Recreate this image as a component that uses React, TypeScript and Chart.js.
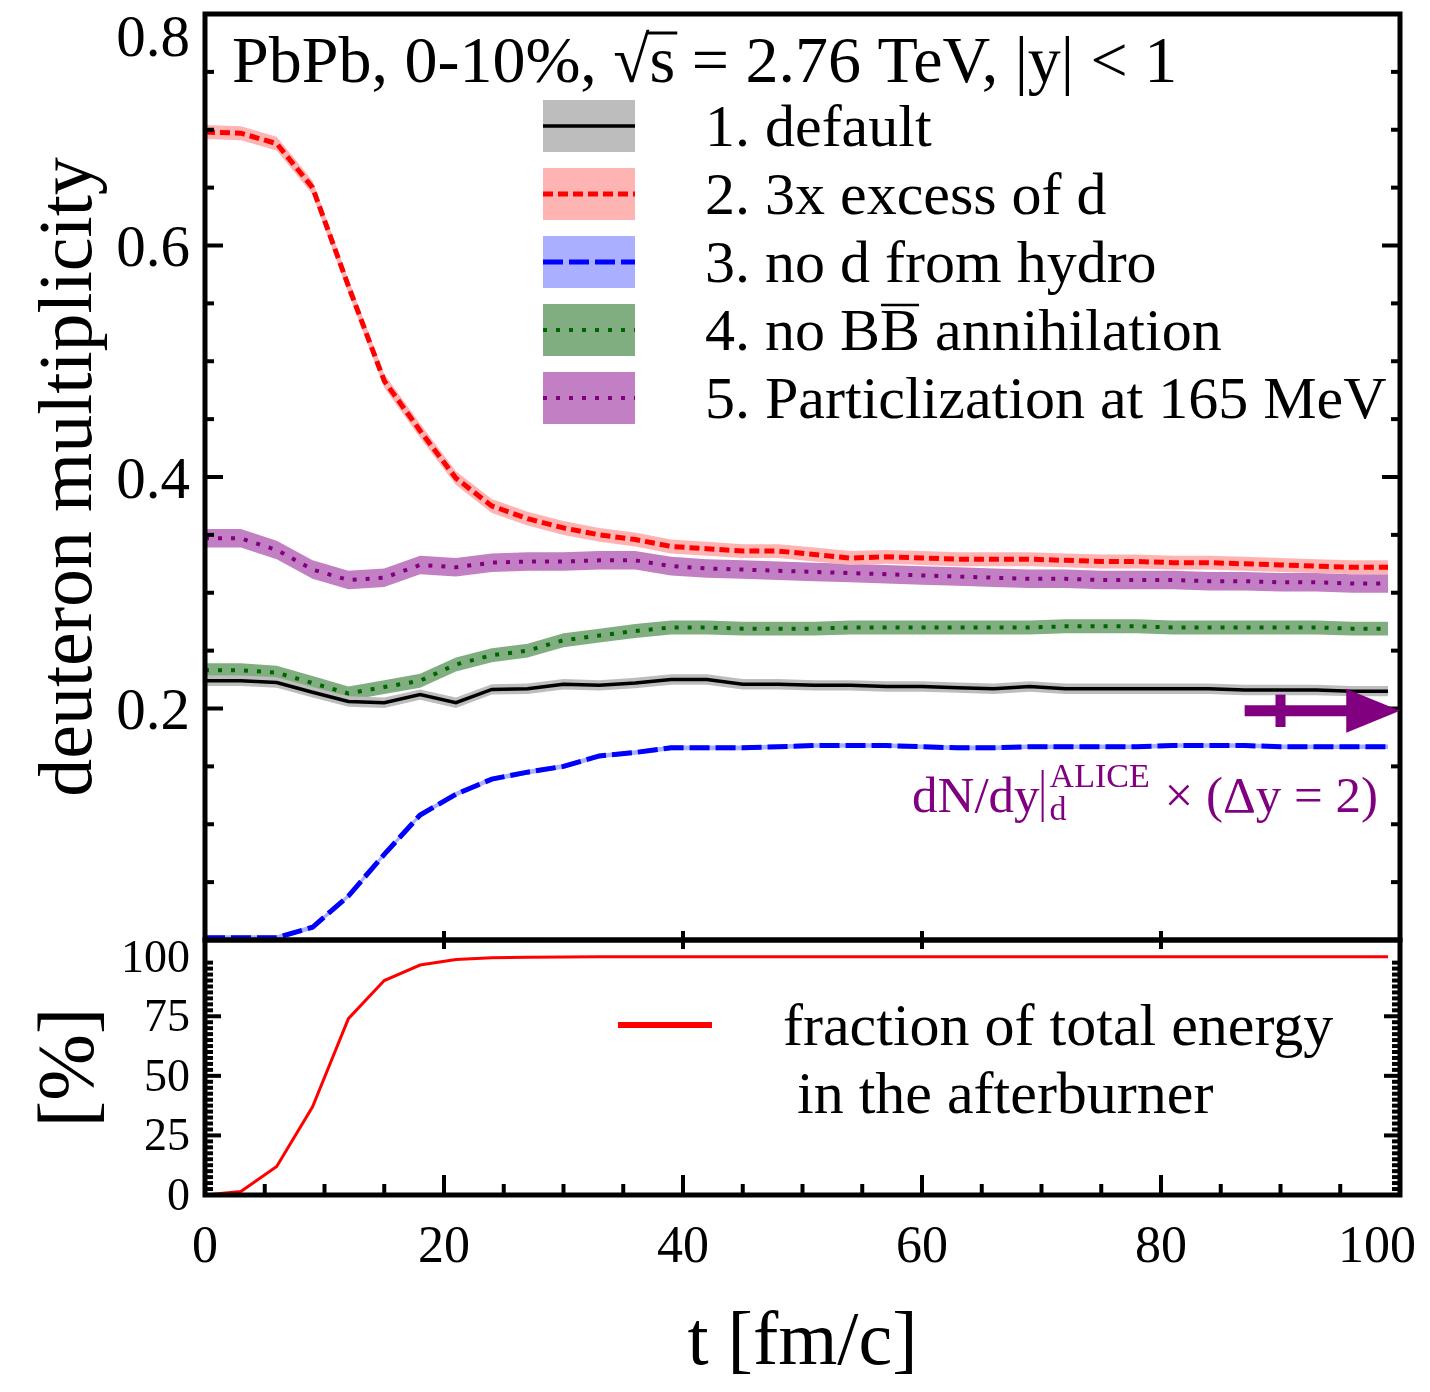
import React, { useEffect, useRef } from "react";
import { Chart, registerables } from "chart.js";

Chart.register(...registerables);

const FONT = '"Liberation Serif", "Times New Roman", "DejaVu Serif", serif';

// ---------------- data ----------------
const times = [0, 3, 6, 9, 12, 15, 18, 21, 24, 27, 30, 33, 36, 39, 42, 45, 48, 51, 54, 57, 60, 63, 66, 69, 72, 75, 78, 81, 84, 87, 90, 93, 96, 99];

const defaultMult = [0.224, 0.224, 0.2225, 0.214, 0.206, 0.205, 0.212, 0.205, 0.2165, 0.217, 0.221, 0.22, 0.222, 0.225, 0.225, 0.221, 0.221, 0.22, 0.22, 0.219, 0.219, 0.218, 0.217, 0.219, 0.217, 0.217, 0.217, 0.217, 0.217, 0.216, 0.216, 0.216, 0.215, 0.215];
const excessMult = [0.698, 0.697, 0.688, 0.65, 0.565, 0.483, 0.44, 0.399, 0.375, 0.364, 0.356, 0.35, 0.346, 0.34, 0.338, 0.336, 0.336, 0.333, 0.33, 0.331, 0.33, 0.329, 0.329, 0.329, 0.328, 0.327, 0.327, 0.326, 0.326, 0.325, 0.324, 0.323, 0.322, 0.322];
const noHydroMult = [0.002, 0.002, 0.002, 0.011, 0.038, 0.074, 0.108, 0.126, 0.139, 0.145, 0.15, 0.159, 0.162, 0.166, 0.166, 0.166, 0.167, 0.168, 0.168, 0.168, 0.167, 0.166, 0.166, 0.167, 0.167, 0.167, 0.167, 0.168, 0.168, 0.168, 0.167, 0.167, 0.167, 0.167];
const noAnnihMult = [0.233, 0.233, 0.231, 0.222, 0.213, 0.2185, 0.224, 0.238, 0.246, 0.25, 0.259, 0.263, 0.267, 0.27, 0.27, 0.269, 0.269, 0.269, 0.27, 0.27, 0.27, 0.27, 0.27, 0.27, 0.271, 0.271, 0.271, 0.27, 0.27, 0.27, 0.27, 0.27, 0.269, 0.269];
const partic165Mult = [0.347, 0.347, 0.337, 0.32, 0.311, 0.313, 0.324, 0.322, 0.326, 0.327, 0.327, 0.328, 0.328, 0.323, 0.321, 0.32, 0.319, 0.318, 0.317, 0.316, 0.315, 0.314, 0.313, 0.312, 0.312, 0.311, 0.311, 0.311, 0.31, 0.31, 0.309, 0.309, 0.308, 0.308];

// band half widths (uncertainty)
const defaultErr = 0.0045;
const excessErr = 0.006;
const noHydroErr = 0.002;
const noAnnihErr = 0.006;
const partic165Err = 0.008;

const energyFraction = [0, 1.5, 12, 37, 74, 90, 96.5, 98.8, 99.5, 99.8, 99.9, 100, 100, 100, 100, 100, 100, 100, 100, 100, 100, 100, 100, 100, 100, 100, 100, 100, 100, 100, 100, 100, 100, 100];

const aliceD = 0.198;
const aliceErr = 0.014;

const multTicks = [0.2, 0.4, 0.6, 0.8];
const fracTicks = [0, 25, 50, 75, 100];
const timeTicks = [0, 20, 40, 60, 80, 100];

const legendLabels = ["1. default", "2. 3x excess of d", "3. no d from hydro", "4. no BB annihilation", "5. Particlization at 165 MeV"];

// ---------------- styles ----------------
const seriesDefs = [
  { values: defaultMult, err: defaultErr, color: "#000000", band: "#bdbdbd", dash: [] as number[], width: 3.5 },
  { values: excessMult, err: excessErr, color: "#ff0000", band: "#ffb4b4", dash: [10, 5], width: 5 },
  { values: noHydroMult, err: noHydroErr, color: "#0000ff", band: "#aab0ff", dash: [20, 6], width: 5 },
  { values: noAnnihMult, err: noAnnihErr, color: "#006400", band: "#80ae80", dash: [4, 9], width: 4 },
  { values: partic165Mult, err: partic165Err, color: "#800080", band: "#c27fc4", dash: [4, 9], width: 4 },
];

const pts = (vals: number[]) => vals.map((v, i) => ({ x: times[i], y: v }));

function line(ctx: CanvasRenderingContext2D, x1: number, y1: number, x2: number, y2: number) {
  ctx.beginPath();
  ctx.moveTo(x1, y1);
  ctx.lineTo(x2, y2);
  ctx.stroke();
}

const noVPad = (s: any) => {
  s.paddingTop = 0;
  s.paddingBottom = 0;
};
const noHPad = (s: any) => {
  s.paddingLeft = 0;
  s.paddingRight = 0;
};

const topDecor = {
  id: "topDecor",
  afterDraw(chart: any) {
    const { ctx, chartArea: a, scales } = chart;
    const x = scales.x;
    const y = scales.y;
    ctx.save();
    // ticks
    ctx.strokeStyle = "#000";
    ctx.lineWidth = 4;
    for (let i = 1; i < 16; i++) {
      const py = y.getPixelForValue(i * 0.05);
      const len = i % 4 === 0 ? 18 : 9;
      line(ctx, a.left, py, a.left + len, py);
      line(ctx, a.right - len, py, a.right, py);
    }
    for (const t of timeTicks.slice(1, -1)) {
      const px = x.getPixelForValue(t);
      line(ctx, px, a.bottom, px, a.bottom - 9);
    }
    ctx.lineWidth = 5;
    ctx.strokeRect(a.left, a.top, a.right - a.left, a.bottom - a.top);

    // top tick label
    ctx.fillStyle = "#000";
    ctx.font = `59px ${FONT}`;
    ctx.textAlign = "right";
    ctx.textBaseline = "middle";
    ctx.fillText(multTicks[multTicks.length - 1].toFixed(1), a.left - 15, a.top + 26);

    // title
    ctx.textAlign = "left";
    ctx.textBaseline = "alphabetic";
    ctx.font = `66px ${FONT}`;
    const title = "PbPb, 0-10%, \u221As = 2.76 TeV, |y| < 1";
    ctx.fillText(title, 232, 82);
    const pre = ctx.measureText("PbPb, 0-10%, \u221A").width;
    const sw = ctx.measureText("s").width;
    ctx.lineWidth = 3;
    line(ctx, 232 + pre - 2, 82 - 49, 232 + pre + sw + 2, 82 - 49);

    // legend
    const lx0 = 543, lx1 = 635;
    seriesDefs.forEach((s, i) => {
      const cy = 126 + i * 68;
      ctx.fillStyle = s.band;
      ctx.fillRect(lx0, cy - 26, lx1 - lx0, 52);
      ctx.strokeStyle = s.color;
      ctx.lineWidth = s.width;
      ctx.setLineDash(s.dash);
      line(ctx, lx0, cy, lx1, cy);
      ctx.setLineDash([]);
      ctx.fillStyle = "#000";
      ctx.font = `60px ${FONT}`;
      ctx.fillText(legendLabels[i], 705, cy + 20);
      if (i === 3) {
        const w0 = ctx.measureText("4. no B").width;
        const wb = ctx.measureText("B").width;
        ctx.strokeStyle = "#000";
        ctx.lineWidth = 2.5;
        line(ctx, 705 + w0 + 1, cy - 25, 705 + w0 + wb - 1, cy - 25);
      }
    });

    // ALICE marker
    const purple = "#800080";
    ctx.fillStyle = purple;
    ctx.strokeStyle = purple;
    const py = y.getPixelForValue(aliceD);
    const xs = x.getPixelForValue(87);
    const xh = x.getPixelForValue(95.5);
    const xe = x.getPixelForValue(100);
    ctx.lineWidth = 11;
    line(ctx, xs, py, xh + 2, py);
    ctx.beginPath();
    ctx.moveTo(xh, py - 22);
    ctx.lineTo(xe, py);
    ctx.lineTo(xh, py + 22);
    ctx.closePath();
    ctx.fill();
    const xb = x.getPixelForValue(90);
    ctx.lineWidth = 10;
    line(ctx, xb, y.getPixelForValue(aliceD + aliceErr), xb, y.getPixelForValue(aliceD - aliceErr));

    // ALICE label
    ctx.font = `51px ${FONT}`;
    const p1 = "dN/dy";
    const p3 = " \u00D7 (\u0394y = 2)";
    const w1 = ctx.measureText(p1).width;
    const w3 = ctx.measureText(p3).width;
    ctx.font = `34px ${FONT}`;
    const wsup = ctx.measureText("ALICE").width;
    const total = w1 + 12 + wsup + w3;
    let cx = 1378 - total;
    const base = 812;
    ctx.font = `51px ${FONT}`;
    ctx.fillText(p1, cx, base);
    cx += w1 + 3;
    ctx.lineWidth = 2;
    line(ctx, cx, base - 42, cx, base + 10);
    cx += 7;
    ctx.font = `34px ${FONT}`;
    ctx.fillText("ALICE", cx, base - 25);
    ctx.fillText("d", cx, base + 8);
    cx += wsup + 2;
    ctx.font = `51px ${FONT}`;
    ctx.fillText(p3, cx, base);
    ctx.restore();
  },
};

const botDecor = {
  id: "botDecor",
  afterDraw(chart: any) {
    const { ctx, chartArea: a, scales } = chart;
    const x = scales.x;
    const y = scales.y;
    ctx.save();
    ctx.strokeStyle = "#000";
    ctx.lineWidth = 4;
    for (let i = 1; i < 40; i++) {
      const py = y.getPixelForValue(i * 2.5);
      const len = i % 10 === 0 ? 16 : 8;
      line(ctx, a.left, py, a.left + len, py);
      line(ctx, a.right - len, py, a.right, py);
    }
    for (let i = 1; i < 20; i++) {
      const px = x.getPixelForValue(i * 5);
      const len = i % 4 === 0 ? 20 : 11;
      line(ctx, px, a.bottom, px, a.bottom - len);
    }
    for (const t of timeTicks.slice(1, -1)) {
      const px = x.getPixelForValue(t);
      line(ctx, px, a.top, px, a.top + 9);
    }
    ctx.lineWidth = 5;
    ctx.strokeRect(a.left, a.top, a.right - a.left, a.bottom - a.top);

    // last x tick label (kept inside the figure)
    ctx.fillStyle = "#000";
    ctx.font = `52px ${FONT}`;
    ctx.textAlign = "center";
    ctx.textBaseline = "middle";
    ctx.fillText(String(timeTicks[timeTicks.length - 1]), 1377, a.bottom + 22 + 31.2);

    // legend
    ctx.strokeStyle = "#ff0000";
    ctx.lineWidth = 6;
    line(ctx, 618, 1025 - 935, 712, 1025 - 935);
    ctx.textAlign = "left";
    ctx.textBaseline = "alphabetic";
    ctx.font = `60px ${FONT}`;
    ctx.fillText("fraction of total energy", 783, 1045 - 935);
    ctx.fillText("in the afterburner", 797, 1113 - 935);
    ctx.restore();
  },
};

export default function App() {
  const topRef = useRef<HTMLCanvasElement>(null);
  const botRef = useRef<HTMLCanvasElement>(null);

  useEffect(() => {
    const datasets: any[] = [];
    seriesDefs.forEach((s) => {
      datasets.push({
        data: pts(s.values),
        borderColor: s.color,
        borderWidth: s.width,
        borderDash: s.dash,
        borderCapStyle: "butt",
        pointRadius: 0,
        fill: false,
        tension: 0,
        order: 0,
      });
    });
    seriesDefs.forEach((s) => {
      const li = datasets.length;
      datasets.push({
        data: pts(s.values.map((v) => v - s.err)),
        borderColor: "rgba(0,0,0,0)",
        borderWidth: 0,
        pointRadius: 0,
        fill: false,
        order: 5,
      });
      datasets.push({
        data: pts(s.values.map((v) => v + s.err)),
        borderColor: "rgba(0,0,0,0)",
        borderWidth: 0,
        backgroundColor: s.band,
        pointRadius: 0,
        fill: li,
        order: 5,
      });
    });

    const top = new Chart(topRef.current as HTMLCanvasElement, {
      type: "line",
      data: { datasets },
      options: {
        animation: false,
        responsive: false,
        maintainAspectRatio: false,
        events: [],
        layout: { padding: { left: 5, right: 30, top: 14, bottom: 5 } },
        plugins: { legend: { display: false }, tooltip: { enabled: false } },
        scales: {
          x: { type: "linear", min: 0, max: 100, display: false },
          y: {
            type: "linear",
            min: 0,
            max: 0.8,
            afterFit: (s: any) => {
              s.width = 200;
              noVPad(s);
            },
            afterBuildTicks: (s: any) => {
              s.ticks = multTicks.slice(0, -1).map((v) => ({ value: v }));
            },
            grid: { display: false, drawTicks: false },
            border: { display: false },
            ticks: {
              color: "#000",
              font: { family: FONT, size: 59 },
              padding: 15,
              labelOffset: 5,
              autoSkip: false,
              callback: (v: any) => Number(v).toFixed(1),
            },
            title: {
              display: true,
              text: "deuteron multiplicity",
              color: "#000",
              font: { family: FONT, size: 76 },
              padding: { top: 20, bottom: 0 },
            },
          },
        },
      } as any,
      plugins: [topDecor],
    });

    const bot = new Chart(botRef.current as HTMLCanvasElement, {
      type: "line",
      data: {
        datasets: [
          {
            data: pts(energyFraction),
            borderColor: "#ff0000",
            borderWidth: 3,
            pointRadius: 0,
            fill: false,
            tension: 0,
          },
        ],
      },
      options: {
        animation: false,
        responsive: false,
        maintainAspectRatio: false,
        events: [],
        layout: { padding: { left: 5, right: 30, top: 5, bottom: 2 } },
        plugins: { legend: { display: false }, tooltip: { enabled: false } },
        scales: {
          x: {
            type: "linear",
            min: 0,
            max: 100,
            afterFit: (s: any) => {
              s.height = 195;
              noHPad(s);
            },
            afterBuildTicks: (s: any) => {
              s.ticks = timeTicks.slice(0, -1).map((v) => ({ value: v }));
            },
            grid: { display: false, drawTicks: false },
            border: { display: false },
            ticks: {
              color: "#000",
              font: { family: FONT, size: 52 },
              padding: 22,
              maxRotation: 0,
              autoSkip: false,
            },
            title: {
              display: true,
              text: "t [fm/c]",
              color: "#000",
              font: { family: FONT, size: 76 },
              padding: { top: 0, bottom: 0 },
            },
          },
          y: {
            type: "linear",
            min: 0,
            max: 107,
            afterFit: (s: any) => {
              s.width = 200;
              noVPad(s);
            },
            afterBuildTicks: (s: any) => {
              s.ticks = fracTicks.map((v) => ({ value: v }));
            },
            grid: { display: false, drawTicks: false },
            border: { display: false },
            ticks: {
              color: "#000",
              font: { family: FONT, size: 46 },
              padding: 15,
              labelOffset: 3,
              autoSkip: false,
            },
            title: {
              display: true,
              text: "[%]",
              color: "#000",
              font: { family: FONT, size: 80 },
              padding: { top: 19, bottom: 0 },
            },
          },
        },
      } as any,
      plugins: [botDecor],
    });

    return () => {
      top.destroy();
      bot.destroy();
    };
  }, []);

  return (
    <div style={{ position: "absolute", left: 0, top: 0, width: 1430, height: 1392, background: "#fff" }}>
      <canvas ref={topRef} width={1430} height={945} style={{ position: "absolute", left: 0, top: 0 }} />
      <canvas ref={botRef} width={1430} height={457} style={{ position: "absolute", left: 0, top: 935 }} />
    </div>
  );
}
